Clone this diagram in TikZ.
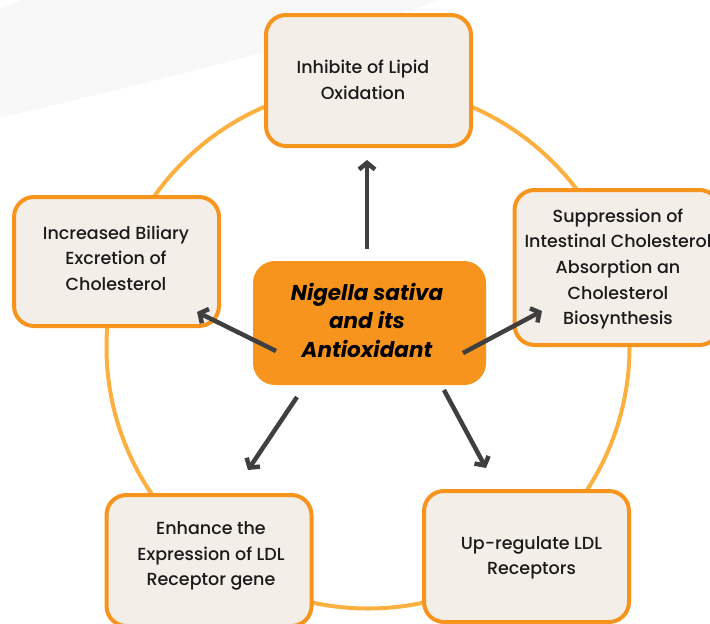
\documentclass[tikz,border=0pt]{standalone}
\usepackage{fontspec}
\setmainfont{Poppins}[UprightFont=* Medium, BoldItalicFont=* Bold Italic]
\usetikzlibrary{arrows.meta}
\definecolor{ring}{HTML}{FBB040}
\definecolor{edge}{HTML}{F7941D}
\definecolor{paper}{HTML}{F3EFE8}
\definecolor{core}{HTML}{F7941D}
\definecolor{ink}{HTML}{1A1A1A}
\definecolor{arrowc}{HTML}{3F3F3F}
\definecolor{swoosh}{HTML}{F8F8F8}
\tikzset{
  leaf/.style={draw=edge, line width=4pt, fill=paper, rounded corners=20pt,
    minimum width=205pt, minimum height=131pt, inner sep=0pt},
  leaftext/.style={align=center, text=ink, inner sep=0pt,
    font=\fontsize{17.5}{25.6}\selectfont},
  hub/.style={fill=core, rounded corners=22pt, minimum width=233pt,
    minimum height=124pt, inner sep=0pt},
  hubtext/.style={align=center, text=black, inner sep=0pt,
    font=\fontsize{21.5}{28.5}\selectfont\bfseries\itshape},
  arr/.style={draw=arrowc, line width=4.5pt, -{Straight Barb[length=6.5pt,width=16pt]}}
}
\begin{document}
\begin{tikzpicture}[x=1pt,y=-1pt]
\useasboundingbox (0,0) rectangle (710,624);
\clip (0,0) rectangle (710,624);
% background swoosh
\fill[swoosh] (0,8) -- (22,0) -- (440,0) .. controls (350,32) and (180,75) .. (0,118) -- cycle;
% ring
\draw[ring, line width=4pt] (368,347) circle[radius=261.5];
% boxes
\node[leaf] (top) at (368.5,80.5) {};
\node[leaf, minimum height=129pt] (left) at (116.5,261.5) {};
\node[leaf, minimum height=155pt] (right) at (617,267.5) {};
\node[leaf] (bl) at (209,560.5) {};
\node[leaf] (br) at (526.5,556.5) {};
\node[hub] (hub) at (369.5,323) {};
% texts
\node[leaftext] (topT) at (363,80) {Inhibite of Lipid\\Oxidation};
\node[leaftext] (leftT) at (116,258) {Increased Biliary\\Excretion of\\Cholesterol};
\node[leaftext] (rightT) at (618,269) {Suppression of\\Intestinal Cholesterol\\Absorption an\\Cholesterol\\Biosynthesis};
\node[leaftext] (blT) at (211,556) {Enhance the\\Expression of LDL\\Receptor gene};
\node[leaftext] (brT) at (531.5,558) {Up-regulate LDL\\Receptors};
\node[hubtext] (hubT) at (367,320) {Nigella sativa\\and its\\Antioxidant};
% arrow ends
\coordinate (s1) at (367,249);  \coordinate (e1) at (367,160);
\coordinate (s2) at (276,351);  \coordinate (e2) at (197,312);
\coordinate (s3) at (463,353);  \coordinate (e3) at (542,311);
\coordinate (s4) at (297,397);  \coordinate (e4) at (248,470);
\coordinate (s5) at (444,390);  \coordinate (e5) at (486,468);
\draw[arr] (s1) -- (e1);
\draw[arr] (s2) -- (e2);
\draw[arr] (s3) -- (e3);
\draw[arr] (s4) -- (e4);
\draw[arr] (s5) -- (e5);
\end{tikzpicture}
\end{document}
